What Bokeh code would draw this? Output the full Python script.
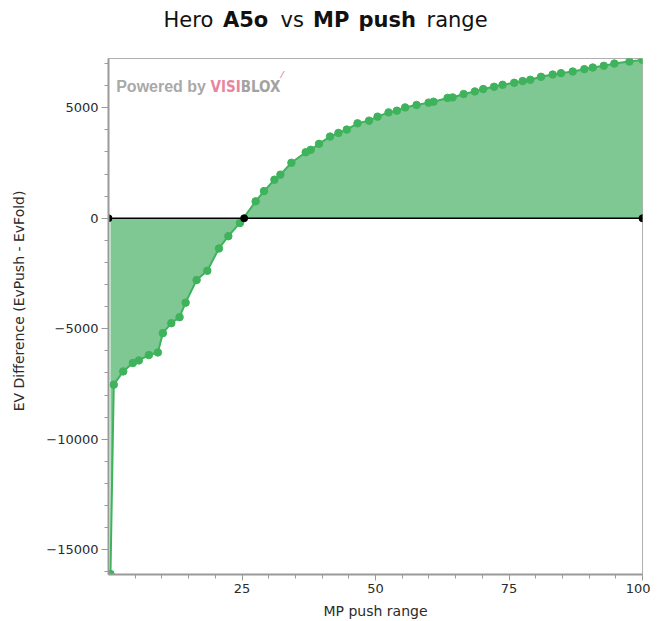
from bokeh.plotting import figure
from bokeh.models import Label, FixedTicker, Range1d
from bokeh.layouts import column
from bokeh.core.properties import value
from bokeh.embed import file_html
from bokeh.resources import INLINE

# ---- data ----
push_range = [0.37, 0.99, 2.76, 4.56, 5.68, 7.56, 9.24, 10.18, 11.76, 13.31,
              14.44, 16.5, 18.5, 20.68, 22.44, 24.62, 27.56, 29.12, 31.07, 32.19,
              34.25, 36.93, 37.87, 39.43, 41.49, 43.06, 44.62, 46.63, 48.8, 50.38,
              52.44, 54.0, 55.55, 57.69, 59.94, 60.87, 63.5, 64.44, 66.5, 68.6,
              70.17, 72.2, 73.8, 75.98, 77.56, 78.98, 81.0, 83.18, 84.74, 86.93,
              89.11, 90.68, 92.75, 94.73, 97.55, 100]
ev_diff = [-16094, -7528, -6929, -6550, -6433, -6190, -6072, -5198, -4747, -4476,
           -3818, -2795, -2376, -1366, -811, -212, 766, 1231, 1745, 1975,
           2511, 2989, 3097, 3367, 3697, 3863, 4012, 4296, 4418, 4598,
           4792, 4869, 5017, 5126, 5233, 5274, 5446, 5468, 5622, 5739,
           5847, 5951, 6041, 6131, 6208, 6266, 6401, 6505, 6568, 6640,
           6748, 6821, 6897, 7001, 7091, 7168]
zero_x = [0, 25.4, 100]
zero_y = [0, 0, 0]
x_ticks = [25, 50, 75, 100]
x_minor = [5, 10, 15, 20, 30, 35, 40, 45, 55, 60, 65, 70, 80, 85, 90, 95]
y_ticks = [-15000, -10000, -5000, 0, 5000]
y_minor = list(range(-16000, 8000, 1000))

title_normal = ["Hero", "vs", "range"]
title_bold = ["A5o", "MP", "push"]

FILL = "#7fc793"
GREEN = "#3fb35c"
AXIS = "#9a9a9a"
TXT = "#2b2b2b"

# ---- title strip (frame aligned with the chart frame; data x = page px) ----
t = figure(width=650, height=40, output_backend="svg", toolbar_location=None,
           x_range=Range1d(108, 642), y_range=Range1d(40, 0),
           x_axis_type=None, y_axis_type=None,
           min_border_left=108, min_border_right=8, min_border_top=0, min_border_bottom=0)
t.outline_line_color = None
t.grid.visible = False
t.text(x=[163, 280, 426], y=[19, 19, 19], text=title_normal,
       text_font=value("DejaVu Sans"), text_font_size="21px",
       text_color="#111111", text_baseline="alphabetic")
t.text(x=[222.5, 312.5, 358], y=[19, 19, 19], text=title_bold,
       text_font=value("DejaVu Sans"), text_font_size="21px", text_font_style="bold",
       text_color="#111111", text_baseline="alphabetic")

# ---- main chart ----
p = figure(width=650, height=581, output_backend="svg", toolbar_location=None,
           x_range=Range1d(0, 100), y_range=Range1d(-16120, 7230),
           min_border_left=108, min_border_right=8, min_border_top=18,
           min_border_bottom=45)
p.grid.visible = False
p.outline_line_color = "#b0b0b0"
p.outline_line_width = 1

p.varea(x=push_range, y1=[0] * len(push_range), y2=ev_diff, fill_color=FILL, fill_alpha=1)
p.line(push_range, ev_diff, line_color=GREEN, line_width=2)
p.scatter(push_range, ev_diff, size=7.5, fill_color=GREEN, line_color=GREEN)
p.line(zero_x, zero_y, line_color="black", line_width=1.5)
p.scatter(zero_x, zero_y, size=7, marker="circle", fill_color="black", line_color="black")

p.xaxis.ticker = FixedTicker(ticks=x_ticks, minor_ticks=x_minor)
p.yaxis.ticker = FixedTicker(ticks=y_ticks, minor_ticks=y_minor)
for ax in (p.xaxis[0], p.yaxis[0]):
    ax.axis_line_color = AXIS
    ax.axis_line_width = 2
    ax.major_tick_line_color = AXIS
    ax.minor_tick_line_color = AXIS
    ax.major_tick_in = 0
    ax.minor_tick_in = 0
    ax.major_label_text_font = "DejaVu Sans"
    ax.major_label_text_font_size = "13px"
    ax.major_label_text_color = TXT
    ax.axis_label_text_font = "DejaVu Sans"
    ax.axis_label_text_font_size = "14px"
    ax.axis_label_text_font_style = "normal"
    ax.axis_label_text_color = TXT

p.xaxis.axis_label = "MP push range"
p.xaxis.major_tick_out = 6
p.xaxis.minor_tick_out = 4
p.xaxis.major_label_standoff = 3
p.xaxis.axis_label_standoff = 7

# leading no-break spaces nudge the rotated label upward, as in the reference
p.yaxis.axis_label = "\u00a0" * 7 + "EV Difference (EvPush - EvFold)"
p.yaxis.major_tick_out = 7
p.yaxis.minor_tick_out = 4
p.yaxis.major_label_standoff = 3
p.yaxis.axis_label_standoff = 16

# watermark
p.add_layout(Label(x=1.44, y=5951, text="Powered by", text_font="Liberation Sans",
                   text_font_size="16px", text_font_style="bold", text_color="#a9a9a9",
                   text_baseline="alphabetic"))
p.add_layout(Label(x=19.11, y=5951, text="VISI", text_font="DejaVu Sans Condensed",
                   text_font_size="15px", text_font_style="bold", text_color="#e9859f",
                   text_baseline="alphabetic"))
p.add_layout(Label(x=24.75, y=5951, text="BLOX", text_font="DejaVu Sans Condensed",
                   text_font_size="15px", text_font_style="bold", text_color="#a3a3a3",
                   text_baseline="alphabetic"))
p.add_layout(Label(x=32.4, y=6500, text="\u2044", text_font="DejaVu Sans",
                   text_font_size="9px", text_font_style="bold", text_color="#e9859f",
                   text_baseline="alphabetic"))

layout = column(t, p, spacing=0)
open("out.html", "w").write(file_html(layout, INLINE))
